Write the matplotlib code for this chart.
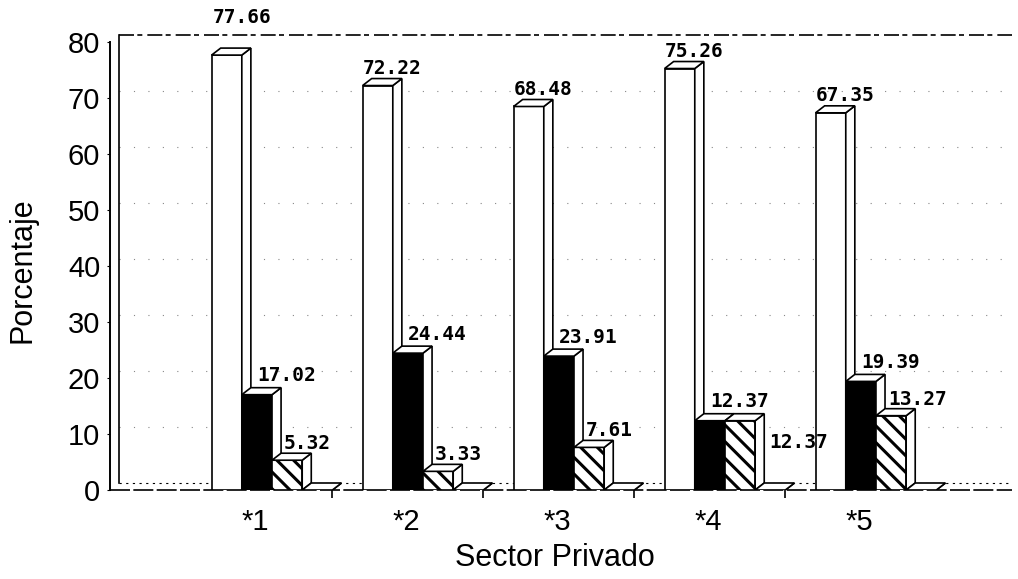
import matplotlib
matplotlib.use("Agg")
import matplotlib.pyplot as plt
from matplotlib.patches import Polygon
import numpy as np

plt.rcParams['font.family'] = ['Liberation Sans', 'DejaVu Sans']
plt.rcParams['hatch.linewidth'] = 2.2

# porcentajes por sector (cada grupo suma 100)
grupos = ['*1', '*2', '*3', '*4', '*5']
serie_blanca = [77.66, 72.22, 68.48, 75.26, 67.35]
serie_negra = [17.02, 24.44, 23.91, 12.37, 19.39]
serie_rayada = [5.32, 3.33, 7.61, 12.37, 13.27]
serie_vacia = [0, 0, 0, 0, 0]
yticks = [0, 10, 20, 30, 40, 50, 60, 70, 80]

series = [
    (serie_blanca, 'white', None, True),
    (serie_negra, 'black', None, True),
    (serie_rayada, 'white', '\\\\', True),
    (serie_vacia, 'white', None, False),
]

BW = 0.2     # ancho de barra
DX = 0.06    # profundidad (x)
DY = 1.25    # profundidad (y)
YMAX = 80

fig = plt.figure(figsize=(10.18, 5.79), dpi=100)
ax = fig.add_axes([110 / 1018, 89 / 579, 902 / 1018, 460 / 579])
ax.set_xlim(-1.073, 4.901)
ax.set_ylim(0, 82.14)
x_izq, x_der = ax.get_xlim()

for s in ax.spines.values():
    s.set_visible(False)

# pared del fondo y piso
ax.plot([x_izq, x_izq], [0, YMAX], color='black', lw=1.4, zorder=2, clip_on=False)
ax.plot([x_izq + DX, x_izq + DX], [DY, YMAX + DY], color='black', lw=1.2, zorder=2,
        clip_on=False)
ax.plot([x_izq + DX, x_der], [YMAX + DY, YMAX + DY], color='black', lw=1.2,
        ls=(0, (9, 2, 3, 3)), zorder=2, clip_on=False)
ax.plot([x_izq, x_der], [0, 0], color='black', lw=1.2, ls=(0, (12, 2)), zorder=2,
        clip_on=False)
ax.plot([x_izq + DX, x_der], [DY, DY], color='black', lw=0.8, ls=(0, (2, 4)), zorder=2)
for t in yticks[1:-1]:
    ax.plot([x_izq + DX, x_der], [t + DY, t + DY], color='#888888', lw=0.8,
            ls=(0, (1, 12)), zorder=1)

# barras con cara lateral y superior
n = len(grupos)
for k, (vals, cara, rayas, _) in enumerate(series):
    x0 = np.arange(n) - 0.4 + k * BW
    ax.bar(x0, vals, width=BW, align='edge', color=cara, edgecolor='black',
           hatch=rayas, lw=1.2, zorder=3 + 2 * k)
    for xi, v in zip(x0, vals):
        lado = Polygon([(xi + BW, 0), (xi + BW + DX, DY), (xi + BW + DX, v + DY), (xi + BW, v)],
                       closed=True, fc='white', ec='black', lw=1.2, zorder=3.5 + 2 * k)
        tapa = Polygon([(xi, v), (xi + DX, v + DY), (xi + BW + DX, v + DY), (xi + BW, v)],
                       closed=True, fc='white', ec='black', lw=1.2, zorder=3.5 + 2 * k)
        ax.add_patch(lado)
        ax.add_patch(tapa)

# etiquetas de valor (desplazamiento en puntos)
desp = {0: (0, 12.5), 1: (11, 13.5), 2: (8.5, 12)}
desp_esp = {(0, 0): (1, 27), (2, 3): (32, -16)}
for k, (vals, _, _, rotula) in enumerate(series):
    if not rotula:
        continue
    x0 = np.arange(n) - 0.4 + k * BW
    for i, (xi, v) in enumerate(zip(x0, vals)):
        off = desp_esp.get((k, i), desp[k])
        ax.annotate(f"{v:.2f}", xy=(xi, v), xytext=off, textcoords='offset points',
                    ha='left', va='center', fontsize=14, fontweight='bold',
                    family='DejaVu Sans Mono', zorder=20)

ax.set_yticks(yticks)
ax.set_yticklabels([str(t) for t in yticks])
ax.tick_params(axis='y', length=2, pad=5, labelsize=21)

ax.set_xticks(np.arange(n) - 0.11)
ax.set_xticklabels(grupos)
ax.set_xticks(np.arange(n - 1) + 0.4, minor=True)
ax.tick_params(axis='x', which='major', length=0, pad=13, labelsize=21)
ax.tick_params(axis='x', which='minor', length=6, width=1.2)

ax.set_xlabel('Sector Privado', fontsize=22)
ax.xaxis.set_label_coords((555 - 110) / 902, -(543 - 490) / 460)
ax.set_ylabel('Porcentaje', fontsize=22)
ax.yaxis.set_label_coords((37 - 110) / 902, (490 - 270) / 460)

fig.savefig('out.png', dpi=100)
